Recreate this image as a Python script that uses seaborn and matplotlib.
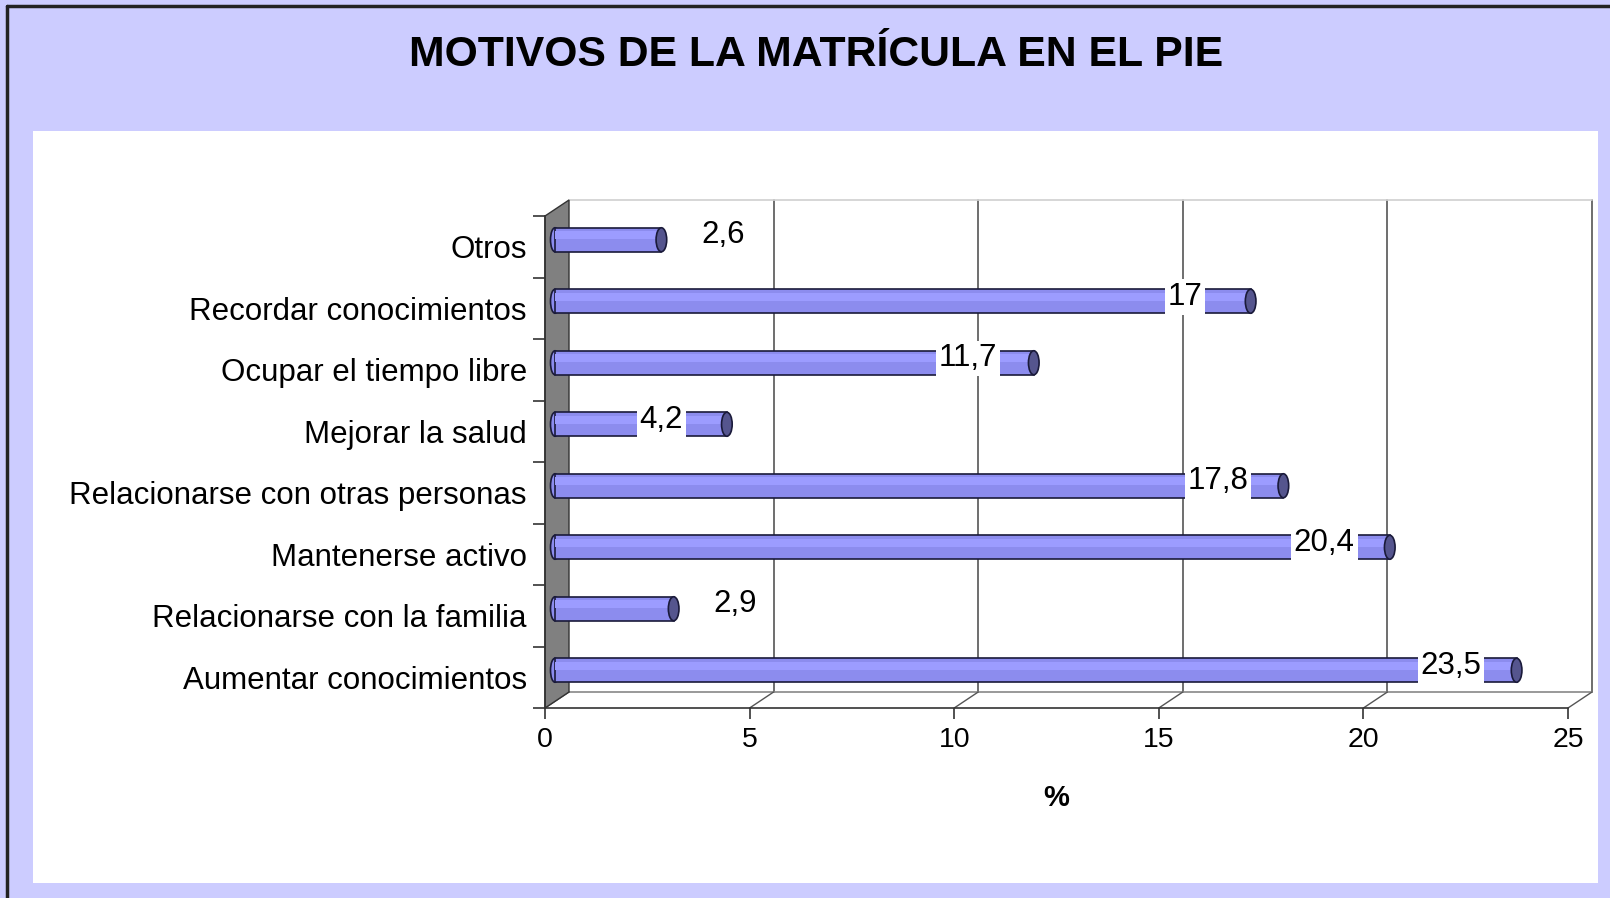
import numpy as np
import pandas as pd
import matplotlib
matplotlib.use('Agg')
import matplotlib.pyplot as plt
import matplotlib.patches as mpatches
from matplotlib.transforms import ScaledTranslation
import seaborn as sns

# data (top to bottom)
categories = ['Otros', 'Recordar conocimientos', 'Ocupar el tiempo libre', 'Mejorar la salud',
              'Relacionarse con otras personas', 'Mantenerse activo',
              'Relacionarse con la familia', 'Aumentar conocimientos']
values = [2.6, 17, 11.7, 4.2, 17.8, 20.4, 2.9, 23.5]
value_labels = ['2,6', '17', '11,7', '4,2', '17,8', '20,4', '2,9', '23,5']
x_ticks = [0, 5, 10, 15, 20, 25]
title = 'MOTIVOS DE LA MATRÍCULA EN EL PIE'

sns.set_style('white')
plt.rcParams['font.family'] = ['Liberation Sans', 'DejaVu Sans']
plt.rcParams['text.color'] = 'black'
plt.rcParams['axes.labelcolor'] = 'black'
plt.rcParams['xtick.color'] = 'black'
plt.rcParams['ytick.color'] = 'black'

W_PX, H_PX = 1610, 898
fig = plt.figure(figsize=(W_PX / 100, H_PX / 100), dpi=100)
fig.patch.set_facecolor('#CCCCFF')

# white inner panel + black frame
fig.add_artist(mpatches.Rectangle((33 / W_PX, 1 - 883 / H_PX), (1598 - 33) / W_PX, (883 - 131) / H_PX,
                                  transform=fig.transFigure, facecolor='white', edgecolor='none', zorder=-5))
fig.add_artist(plt.Line2D([7 / W_PX, 7 / W_PX], [0, 1 - 6 / H_PX], transform=fig.transFigure,
                          color='#222222', lw=2.5))
fig.add_artist(plt.Line2D([7 / W_PX, 1], [1 - 6 / H_PX, 1 - 6 / H_PX], transform=fig.transFigure,
                          color='#222222', lw=2.5))

fig.text(816 / W_PX, 1 - 55 / H_PX, title, ha='center', va='center', fontsize=30.8, fontweight='bold')

# front face of the plot box
x0, x1, y0, y1 = 545, 1568, 216, 708
ax = fig.add_axes([x0 / W_PX, 1 - y1 / H_PX, (x1 - x0) / W_PX, (y1 - y0) / H_PX])
ax.set_facecolor('none')

df = pd.DataFrame({'motivo': categories, 'pct': values})
sns.barplot(data=df, x='pct', y='motivo', orient='h', color='#8c8cee', saturation=1,
            edgecolor='#1a1a3a', linewidth=1.2, width=0.39, ax=ax, zorder=3)
ax.set_xlim(0, 25)
ax.set_ylim(7.5, -0.5)

# depth offsets (pixels -> inches)
back_tr = ax.transData + ScaledTranslation(0.24, 0.16, fig.dpi_scale_trans)
bar_tr = ax.transData + ScaledTranslation(0.10, 0.07, fig.dpi_scale_trans)
DX = 24 / ((x1 - x0) / 25)
DY = 16 / ((y1 - y0) / 8)

for p in ax.patches:
    p.set_transform(bar_tr)
    p.set_clip_on(False)

# light strip along the top of each bar
hl = ax.barh(np.arange(len(values)) - 0.07, values, height=0.13, color='#9c9cff', linewidth=0, zorder=3.5)
for p in hl:
    p.set_transform(bar_tr)
    p.set_clip_on(False)

# rounded start and end caps
for i, v in enumerate(values):
    ax.add_patch(mpatches.Ellipse((0, i), width=0.22, height=0.39, transform=bar_tr,
                                  facecolor='#8c8cee', edgecolor='#1a1a3a', lw=1.2,
                                  zorder=2.9, clip_on=False))
    ax.add_patch(mpatches.Ellipse((v, i), width=0.26, height=0.39, transform=bar_tr,
                                  facecolor='#55558e', edgecolor='#1a1a3a', lw=1.2,
                                  zorder=4, clip_on=False))

# value labels
for i, (v, lab) in enumerate(zip(values, value_labels)):
    xpos = v + 1.5 if v < 4 else v - 1.6
    ax.text(xpos, i - 0.07, lab, transform=bar_tr, ha='center', va='center', fontsize=22.5, zorder=6,
            bbox=dict(facecolor='white', edgecolor='none', pad=2))

# back wall, gridlines and floor
for t in x_ticks[1:]:
    ax.plot([t, t], [-0.5, 7.5], transform=back_tr, color='#555555', lw=1.2, clip_on=False, zorder=1)
ax.plot([0, 25], [7.5, 7.5], transform=back_tr, color='#888888', lw=1.2, clip_on=False, zorder=1)
ax.plot([0, 25], [-0.5, -0.5], transform=back_tr, color='#d0d0d0', lw=1.2, clip_on=False, zorder=1)
for t in x_ticks:
    ax.plot([t, t + DX], [7.5, 7.5 - DY], color='#555555', lw=1, clip_on=False, zorder=1)
ax.add_patch(mpatches.Polygon([(0, -0.5), (DX, -0.5 - DY), (DX, 7.5 - DY), (0, 7.5)],
                              closed=True, facecolor='#808080', edgecolor='#333333', lw=1,
                              clip_on=False, zorder=2))

# axes styling
for s in ['top', 'right']:
    ax.spines[s].set_visible(False)
for s in ['left', 'bottom']:
    ax.spines[s].set_color('#333333')
    ax.spines[s].set_linewidth(1.2)

ax.set_xticks(x_ticks)
ax.set_xticklabels([str(t) for t in x_ticks])
ax.tick_params(axis='x', bottom=True, direction='out', length=8, width=1.2, color='#333333',
               pad=6, labelsize=20.5)
ax.set_yticks(range(len(categories)))
ax.set_yticklabels(categories)
ax.set_yticks(np.arange(-0.5, len(categories), 1), minor=True)
ax.tick_params(axis='y', which='major', left=True, length=0, pad=13, labelsize=22.5)
ax.tick_params(axis='y', which='minor', left=True, direction='out', length=9, width=1.2, color='#333333')
ax.set_ylabel('')
ax.set_xlabel('%', fontsize=21, fontweight='bold', labelpad=22)

fig.savefig('out.png', dpi=100, facecolor=fig.get_facecolor())
